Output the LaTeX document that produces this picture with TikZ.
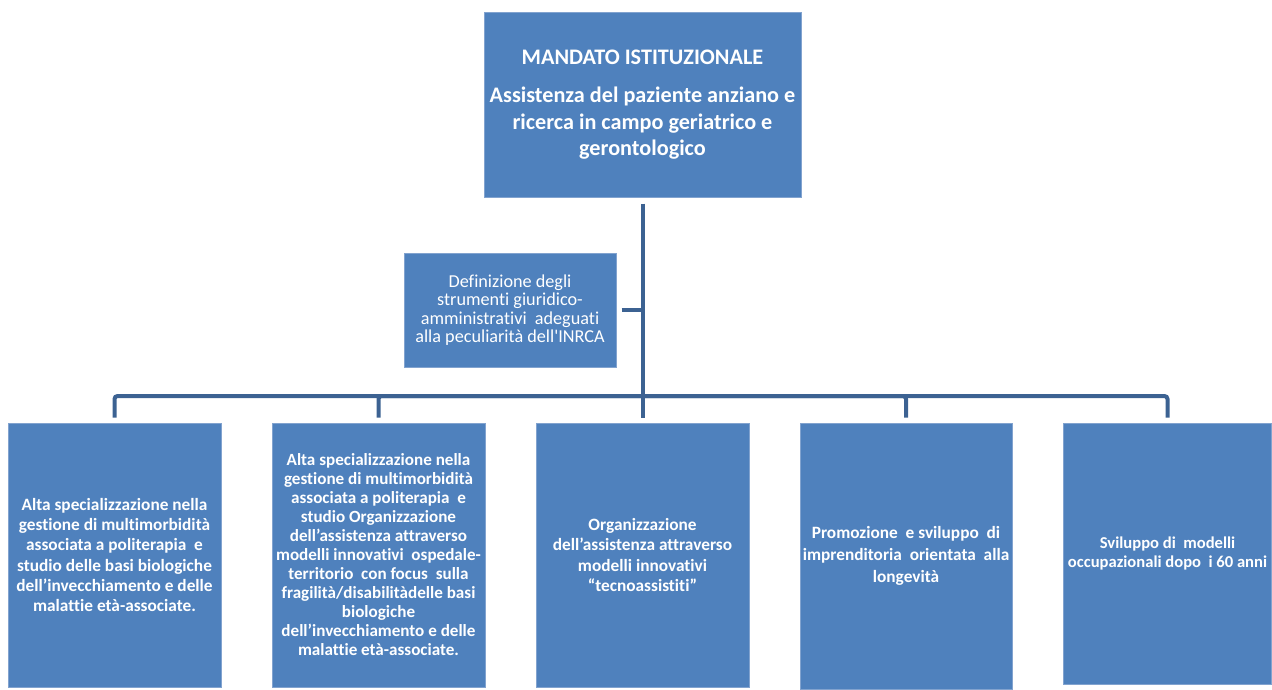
\documentclass[tikz,border=0pt]{standalone}
\usepackage{fontspec}
\setmainfont{Carlito}[Ligatures={TeX,NoCommon}]
\definecolor{boxfill}{RGB}{79,129,189}
\definecolor{boxedge}{RGB}{130,163,207}
\definecolor{linkc}{RGB}{60,98,146}
\begin{document}
\begin{tikzpicture}[x=1pt,y=-1pt,
  box/.style={draw=boxedge, line width=1pt, fill=boxfill, text=white, align=center, inner sep=0pt},
  link/.style={draw=linkc, line width=4pt, rounded corners=3pt}]
\useasboundingbox (0,0) rectangle (1272,689);
\node[box, minimum width=317pt, minimum height=185pt, font=\bfseries\fontsize{22.2}{26.5}\selectfont] (top) at (642.5,104.5)
  {MANDATO ISTITUZIONALE\\[12pt] Assistenza del paziente anziano e\\ ricerca in campo geriatrico e\\ gerontologico};
\node[box, minimum width=212pt, minimum height=114pt, font=\fontsize{18.2}{18.5}\selectfont] (def) at (510,310)
  {Definizione degli\\ strumenti giuridico-\\ amministrativi\ \ adeguati\\ alla peculiarità dell\textquotesingle INRCA};
\node[box, minimum width=213pt, minimum height=264pt, font=\bfseries\fontsize{17.3}{20.3}\selectfont] (b1) at (114.5,555)
  {Alta specializzazione nella\\ gestione di multimorbidità\\ associata a politerapia\ \ e\\ studio delle basi biologiche\\ dell’invecchiamento e delle\\ malattie età-associate.};
\node[box, minimum width=213pt, minimum height=264pt, font=\bfseries\fontsize{17.1}{19}\selectfont] (b2) at (378.5,555)
  {Alta specializzazione nella\\ gestione di multimorbidità\\ associata a politerapia\ \ e\\ studio Organizzazione\\ dell’assistenza attraverso\\ modelli innovativi\ \ ospedale-\\ territorio\ \ con focus\ \ sulla\\ fragilità/disabilitàdelle basi\\ biologiche\\ dell’invecchiamento e delle\\ malattie età-associate.};
\node[box, minimum width=213pt, minimum height=264pt, font=\bfseries\fontsize{17.3}{20.5}\selectfont] (b3) at (642.5,555)
  {Organizzazione\\ dell’assistenza attraverso\\ modelli innovativi\\ “tecnoassistiti”};
\node[box, minimum width=212pt, minimum height=266pt, font=\bfseries\fontsize{17.3}{21.7}\selectfont] (b4) at (906,556)
  {Promozione\ \ e sviluppo\ \ di\\ imprenditoria\ \ orientata\ \ alla\\ longevità};
\node[box, minimum width=208pt, minimum height=261pt, font=\bfseries\fontsize{16.6}{19.5}\selectfont] (b5) at (1167.5,553.5)
  {Sviluppo di\ \ modelli\\ occupazionali dopo\ \ i 60 anni};
\coordinate (barc) at (642.5,396);
\draw[link, shorten <=6pt] (top.south) -- (barc);
\draw[link, shorten <=5pt] (def.east) -- (def.east -| top.south);
\foreach \b in {b1,b2,b3,b4,b5} {
  \draw[link, shorten >=5pt] (barc) -| (\b.north);
}
\end{tikzpicture}
\end{document}
